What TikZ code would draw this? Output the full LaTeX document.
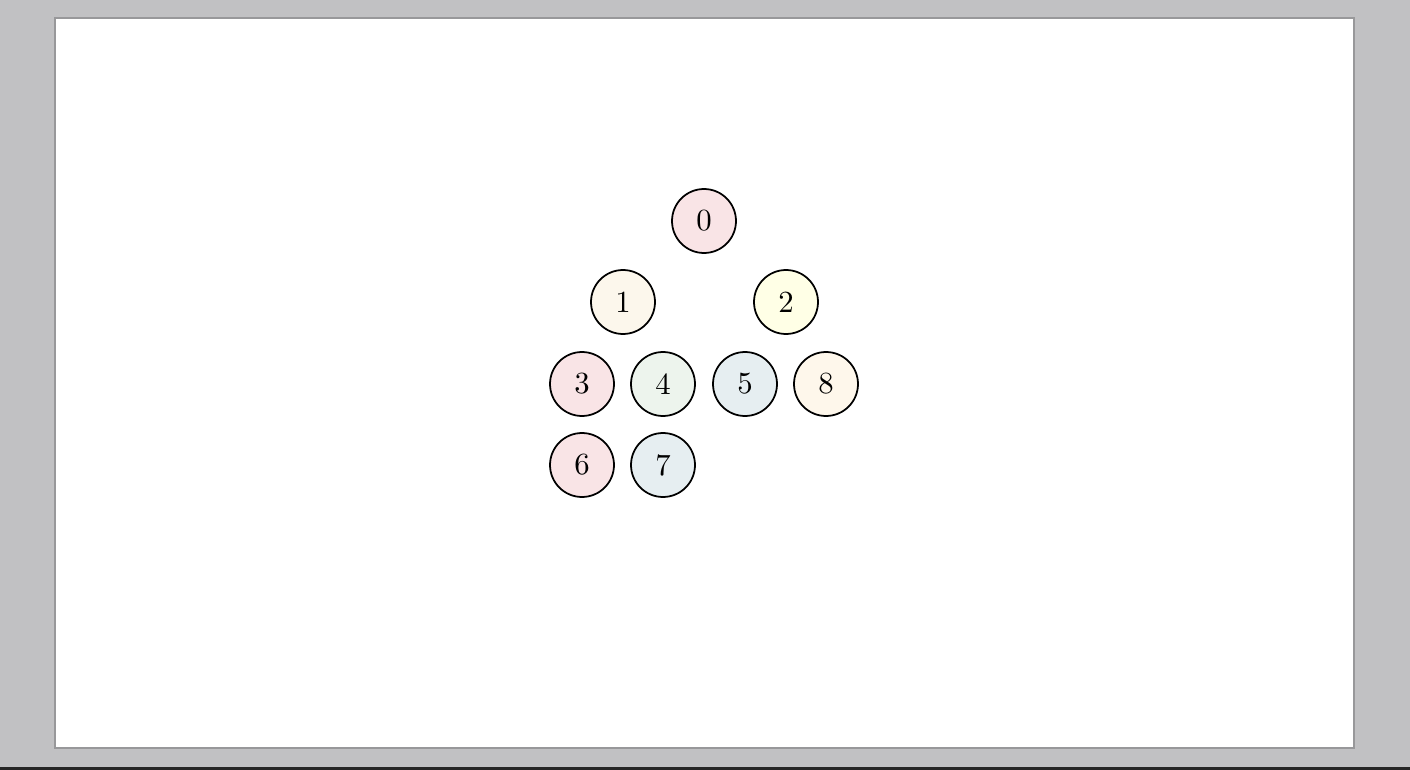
\documentclass[tikz,border=0pt]{standalone}
\usetikzlibrary{positioning}
\definecolor{bggray}{RGB}{193,193,195}
\definecolor{pagegray}{RGB}{152,152,154}
\definecolor{cpink}{RGB}{249,228,230}
\definecolor{ccream}{RGB}{252,247,236}
\definecolor{cyellow}{RGB}{255,255,230}
\definecolor{cgreen}{RGB}{237,244,237}
\definecolor{cblue}{RGB}{230,238,241}
\definecolor{corange}{RGB}{254,247,235}

\begin{document}
\begin{tikzpicture}[x=0.02cm,y=-0.02cm,
  vert/.style={circle,draw=black,line width=1pt,minimum size=1.28cm,inner sep=0pt}]
% ---------- frame ----------
\fill[bggray] (0,0) rectangle (1410,770);
\fill[black!85] (0,767) rectangle (1410,770);
\draw[pagegray,line width=1.4pt,fill=white] (55,18) rectangle (1354,748);
\useasboundingbox (0,0) rectangle (1410,770);
% ---------- vertices: name/x/y/fill ----------
\foreach \n/\xx/\yy/\cc in {0/704/221/cpink,1/623/302/ccream,2/786/302/cyellow,
    3/582/384/cpink,4/663/384/cgreen,5/745/384/cblue,8/826/384/corange,
    6/582/465/cpink,7/663/465/cblue}{
  \node[vert,fill=\cc] (n\n) at (\xx,\yy) {\scalebox{1.75}{\n}};}
\end{tikzpicture}
\end{document}
